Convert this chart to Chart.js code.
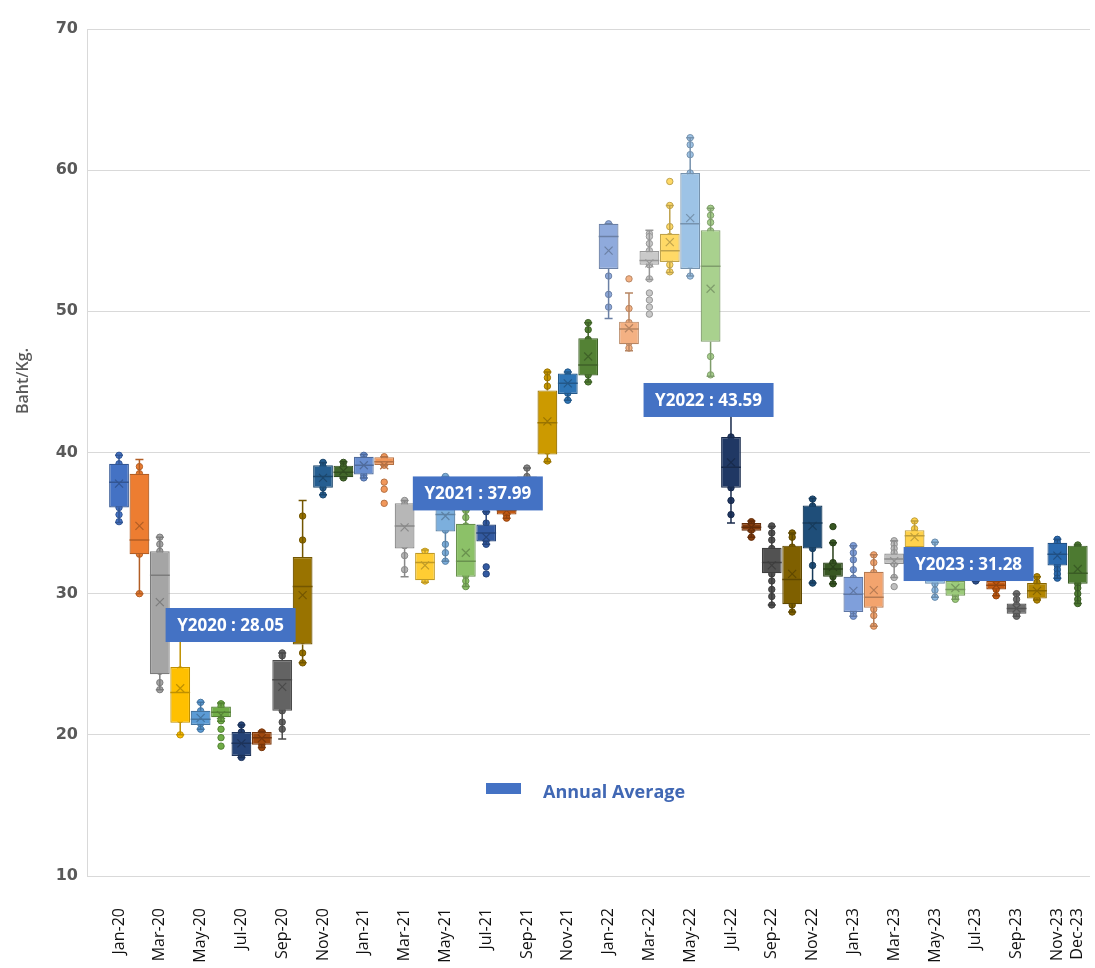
<!DOCTYPE html>
<html>
<head>
<meta charset="utf-8">
<script src="https://cdn.jsdelivr.net/npm/chart.js@4.4.0/dist/chart.umd.min.js"></script>
<style>
  html, body { margin: 0; background: #fff; }
</style>
</head>
<body>
<canvas id="boxChart" width="1095" height="968"></canvas>
<script>
const months = [
  "Jan-20","Feb-20","Mar-20","Apr-20","May-20","Jun-20","Jul-20","Aug-20","Sep-20","Oct-20","Nov-20","Dec-20",
  "Jan-21","Feb-21","Mar-21","Apr-21","May-21","Jun-21","Jul-21","Aug-21","Sep-21","Oct-21","Nov-21","Dec-21",
  "Jan-22","Feb-22","Mar-22","Apr-22","May-22","Jun-22","Jul-22","Aug-22","Sep-22","Oct-22","Nov-22","Dec-22",
  "Jan-23","Feb-23","Mar-23","Apr-23","May-23","Jun-23","Jul-23","Aug-23","Sep-23","Oct-23","Nov-23","Dec-23"
];

// box stats per month (Baht/Kg.)
const whiskerLow = [35.05,30.0,23.2,20.0,20.4,20.97,18.4,19.1,19.7,25.1,37.0,38.2,
  38.2,39.12,31.2,30.8,32.3,30.5,33.5,35.35,37.2,39.35,43.7,45.0,
  49.5,47.2,52.25,52.75,52.5,45.4,35.0,34.0,29.2,28.7,30.75,30.7,
  28.4,27.7,31.15,33.1,29.75,29.6,30.9,29.85,28.4,29.55,31.1,29.3];
const boxQ1 = [36.1,32.8,24.3,20.85,20.7,21.25,18.5,19.3,21.7,26.4,37.5,38.25,
  38.45,39.12,33.2,30.95,34.4,31.2,33.7,35.6,37.5,39.85,44.15,45.45,
  53.0,47.67,53.3,53.5,53.0,47.85,37.5,34.45,31.45,29.25,33.2,31.2,
  28.7,29.0,32.1,33.3,30.7,29.85,31.3,30.3,28.57,29.65,32.0,30.7];
const boxMedian = [37.9,33.8,31.3,23.0,21.1,21.6,19.4,19.8,23.9,30.5,38.3,38.6,
  39.1,39.35,34.8,32.2,35.6,32.3,34.3,35.9,37.9,42.1,44.9,46.2,
  55.3,48.75,53.6,54.3,56.2,53.2,38.95,34.7,32.2,31.0,35.0,31.75,
  29.95,29.75,32.45,34.1,31.3,30.3,31.8,30.6,28.95,30.2,32.8,31.45];
const boxQ3 = [39.2,38.5,33.0,24.8,21.7,22.0,20.2,20.2,25.3,32.6,39.1,39.07,
  39.7,39.67,36.4,32.9,37.3,34.95,34.9,36.1,38.3,44.4,45.6,48.1,
  56.2,49.27,54.27,55.5,59.8,55.75,41.1,35.0,33.25,33.4,36.25,32.2,
  31.2,31.55,32.85,34.5,32.0,30.9,32.3,30.9,29.3,30.75,33.6,33.4];
const whiskerHigh = [39.8,39.5,34.0,26.8,22.3,22.25,20.7,20.25,25.8,36.6,39.3,39.35,
  39.85,39.7,36.6,33.1,38.3,35.9,35.8,36.3,38.9,45.7,45.7,49.2,
  56.2,51.3,55.75,57.5,62.3,57.3,42.9,35.15,34.75,34.3,36.75,33.6,
  33.4,32.75,33.75,35.15,33.65,31.5,32.9,31.1,30.0,31.2,33.85,33.45];
const boxMean = [37.8,34.8,29.4,23.3,21.2,21.4,19.4,19.75,23.4,29.9,38.2,38.7,
  39.1,39.1,34.7,32.0,35.5,32.9,34.0,35.9,37.9,42.2,44.9,46.8,
  54.3,48.8,53.4,54.9,56.6,51.6,39.3,34.7,32.0,31.4,34.8,31.9,
  30.2,30.25,32.3,34.0,31.3,30.4,31.8,30.6,28.95,30.2,32.7,31.75];

// individual observations per month
const monthPoints = [
  [39.8,39.2,38.7,38.2,37.9,37.5,37.0,36.5,36.1,35.6,35.1],
  [39.0,38.5,37.5,37.0,33.8,33.3,32.8,30.0],
  [34.0,33.5,33.0,32.5,31.5,31.0,30.0,28.5,26.5,25.5,24.5,23.7,23.2],
  [24.6,24.1,23.7,22.8,21.7,21.1,20.0],
  [22.3,21.7,21.3,21.0,20.8,20.4],
  [22.2,22.0,21.7,21.4,21.0,20.4,19.8,19.2],
  [20.7,20.2,19.8,19.4,19.0,18.6,18.4],
  [20.2,19.9,19.6,19.3,19.1],
  [25.8,25.6,24.9,24.0,23.5,22.8,21.7,20.9,20.4],
  [35.5,33.8,32.1,31.5,30.9,30.2,28.4,27.8,27.2,26.7,25.8,25.1],
  [39.3,39.0,38.6,38.2,37.8,37.5,37.0],
  [39.3,39.0,38.7,38.4,38.2],
  [39.8,39.5,39.1,38.7,38.4,38.2],
  [39.7,39.5,39.3,39.1,37.9,37.4,36.4],
  [36.6,36.3,35.2,34.6,34.0,33.4,32.7,31.7],
  [33.0,32.6,32.2,31.7,31.2,30.9],
  [38.3,37.0,36.2,35.6,35.0,34.5,33.5,32.9,32.3],
  [35.9,35.4,34.8,34.0,33.3,32.5,32.0,31.3,30.9,30.5],
  [35.8,35.0,34.6,34.2,33.8,33.5,31.9,31.4],
  [36.2,36.0,35.8,35.6,35.35],
  [38.9,38.3,38.0,37.7,37.4],
  [45.7,45.3,44.7,43.9,42.3,41.2,40.7,40.1,39.4],
  [45.7,45.4,45.0,44.6,44.2,43.7],
  [49.2,48.7,48.0,47.6,47.1,46.6,46.0,45.5,45.0],
  [56.2,55.8,55.3,54.4,53.4,52.5,51.2,50.3],
  [52.3,50.2,49.2,48.9,48.6,48.2,47.8,47.4],
  [55.5,55.3,54.8,54.3,53.9,53.5,53.3,52.3,51.3,50.8,50.3,49.8],
  [59.2,57.5,56.0,55.3,54.8,54.2,53.7,53.3,52.8],
  [62.3,61.8,61.1,59.8,59.3,58.8,58.3,57.5,56.2,55.1,53.9,53.3,52.5],
  [57.3,56.8,56.3,55.7,55.2,54.8,54.0,53.2,51.9,50.0,49.3,46.8,45.5],
  [41.1,40.5,39.8,39.2,38.6,38.0,37.5,36.6,35.6],
  [35.1,34.9,34.7,34.5,34.0],
  [34.8,34.3,33.8,33.2,32.5,31.9,31.4,30.9,30.3,29.8,29.2],
  [34.3,34.0,33.3,32.6,31.8,31.0,30.3,29.6,29.2,28.7],
  [36.7,36.2,35.7,35.2,34.6,33.8,33.2,32.0,30.75],
  [34.75,33.6,32.2,31.9,31.5,31.2,30.7],
  [33.4,32.9,32.4,31.7,31.1,30.5,29.9,29.3,28.7,28.4],
  [32.75,32.2,31.5,30.9,30.2,29.8,29.3,28.9,28.45,27.7],
  [33.75,33.5,33.2,32.9,32.6,32.3,32.1,31.15,30.5],
  [35.15,34.6,34.3,34.0,33.6,33.3],
  [33.65,33.0,32.0,31.4,30.7,30.25,29.75],
  [31.3,30.8,30.4,30.0,29.85,29.6],
  [32.9,32.3,31.8,31.3,30.9],
  [31.1,30.9,30.6,30.3,29.85],
  [30.0,29.6,29.2,28.9,28.6,28.4],
  [31.2,30.8,30.4,30.0,29.65,29.55],
  [33.85,33.6,33.2,32.8,32.3,32.0,31.7,31.4,31.1],
  [33.45,33.3,32.8,32.2,31.7,31.2,30.7,30.4,30.0,29.6,29.3]
];

const yearNames = ["Y2020", "Y2021", "Y2022", "Y2023"];
const yearAverages = [28.05, 37.99, 43.59, 31.28];

const tickIndexes = [0,2,4,6,8,10,12,14,16,18,20,22,24,26,28,30,32,34,36,38,40,42,44,46,47];

const boxColors = [
  "#4472C4","#ED7D31","#A5A5A5","#FFC000","#5B9BD5","#70AD47",
  "#264478","#9E480E","#636363","#997300","#255E91","#43682B",
  "#698ED0","#F1975A","#B7B7B7","#FFCD33","#7CAFDD","#8CC168",
  "#335AA1","#C65B13","#848484","#CC9A00","#2E75B6","#548235",
  "#8FAADC","#F4B183","#C9C9C9","#FFD966","#9DC3E6","#A9D18E",
  "#203864","#843C0C","#525252","#7F6000","#1F4E79","#385723",
  "#7F9FDB","#F3A46E","#BFBFBF","#FFD24C","#8CB9E2","#9CCB7B",
  "#2C4F8C","#C55A11","#6F6F6F","#B38600","#2A6AB0","#4D7A31"
];

function darken(hex, f) {
  const n = parseInt(hex.slice(1), 16);
  const r = Math.round(((n >> 16) & 255) * (1 - f));
  const g = Math.round(((n >> 8) & 255) * (1 - f));
  const b = Math.round((n & 255) * (1 - f));
  return `rgb(${r},${g},${b})`;
}
const edgeColors = boxColors.map((c) => darken(c, 0.25));

// label box anchors (x in month index, y in Baht/Kg.)
const labelAnchors = [[5.47, 27.78], [17.59, 37.1], [28.9, 43.72], [41.65, 32.1]];

const scatterData = [];
const scatterFill = [];
const scatterEdge = [];
monthPoints.forEach((pts, i) => {
  pts.forEach((v) => {
    scatterData.push({ x: i, y: v });
    scatterFill.push(boxColors[i]);
    scatterEdge.push(edgeColors[i]);
  });
});

const boxExtras = {
  id: "boxExtras",
  afterDatasetDraw(chart, args) {
    if (args.index !== 0) return;
    const ctx = chart.ctx;
    const xs = chart.scales.x;
    const ys = chart.scales.y;
    const meta = chart.getDatasetMeta(0);
    ctx.save();
    months.forEach((m, i) => {
      const bar = meta.data[i];
      const cx = xs.getPixelForValue(i);
      const half = bar.width / 2;
      ctx.strokeStyle = edgeColors[i];
      ctx.lineWidth = 1.5;
      ctx.beginPath();
      ctx.moveTo(cx, ys.getPixelForValue(boxQ3[i]));
      ctx.lineTo(cx, ys.getPixelForValue(whiskerHigh[i]));
      ctx.moveTo(cx, ys.getPixelForValue(boxQ1[i]));
      ctx.lineTo(cx, ys.getPixelForValue(whiskerLow[i]));
      ctx.moveTo(cx - 4, ys.getPixelForValue(whiskerHigh[i]));
      ctx.lineTo(cx + 4, ys.getPixelForValue(whiskerHigh[i]));
      ctx.moveTo(cx - 4, ys.getPixelForValue(whiskerLow[i]));
      ctx.lineTo(cx + 4, ys.getPixelForValue(whiskerLow[i]));
      const my = ys.getPixelForValue(boxMedian[i]);
      ctx.moveTo(cx - half, my);
      ctx.lineTo(cx + half, my);
      ctx.stroke();
      const ay = ys.getPixelForValue(boxMean[i]);
      ctx.lineWidth = 1.2;
      ctx.beginPath();
      ctx.moveTo(cx - 4, ay - 4);
      ctx.lineTo(cx + 4, ay + 4);
      ctx.moveTo(cx + 4, ay - 4);
      ctx.lineTo(cx - 4, ay + 4);
      ctx.stroke();
    });
    ctx.restore();
  },
  afterDraw(chart) {
    const ctx = chart.ctx;
    const xs = chart.scales.x;
    const ys = chart.scales.y;
    ctx.save();
    // annual average labels
    yearAverages.forEach((v, i) => {
      const cx = xs.getPixelForValue(labelAnchors[i][0]);
      const cy = ys.getPixelForValue(labelAnchors[i][1]);
      ctx.fillStyle = "#4472C4";
      ctx.fillRect(cx - 65, cy - 17, 130, 34);
      ctx.fillStyle = "#ffffff";
      ctx.font = "bold 17px 'Open Sans'";
      ctx.textAlign = "center";
      ctx.textBaseline = "middle";
      ctx.fillText(`${yearNames[i]} : ${v.toFixed(2)}`, cx, cy + 1);
    });
    // legend
    ctx.fillStyle = "#4472C4";
    ctx.fillRect(486, 783, 35, 11);
    ctx.font = "bold 18px 'Open Sans'";
    ctx.textAlign = "left";
    ctx.textBaseline = "middle";
    ctx.fillStyle = "#4168B4";
    ctx.fillText("Annual Average", 543, 793);
    // y axis title
    ctx.translate(23, 381);
    ctx.rotate(-Math.PI / 2);
    ctx.textAlign = "center";
    ctx.fillStyle = "#595959";
    ctx.font = "600 16px 'Open Sans'";
    ctx.fillText("Baht/Kg.", 0, 0);
    ctx.restore();
  },
};

new Chart(document.getElementById("boxChart"), {
  type: "bar",
  data: {
    datasets: [
      {
        label: "Monthly price",
        data: months.map((m, i) => ({ x: i, y: [boxQ1[i], boxQ3[i]] })),
        backgroundColor: boxColors,
        borderColor: edgeColors,
        borderWidth: 1.2,
        borderSkipped: false,
        barPercentage: 0.97,
        categoryPercentage: 1.0,
      },
      {
        type: "scatter",
        label: "Observations",
        data: scatterData,
        pointBackgroundColor: scatterFill,
        pointBorderColor: scatterEdge,
        pointBorderWidth: 1,
        pointRadius: 3.2,
        showLine: false,
      },
    ],
  },
  options: {
    responsive: false,
    animation: false,
    layout: { padding: { top: 29, right: 0, left: 0, bottom: 0 } },
    plugins: {
      legend: { display: false },
      tooltip: { enabled: false },
    },
    scales: {
      x: {
        type: "linear",
        offset: false,
        min: -1.57,
        max: 47.6,
        grid: { display: false, drawTicks: false },
        border: { display: false },
        afterBuildTicks: (s) => {
          s.ticks = tickIndexes.map((v) => ({ value: v }));
        },
        afterFit: (s) => {
          s.height = 92;
          s.paddingLeft = 0;
          s.paddingRight = 0;
        },
        ticks: {
          autoSkip: false,
          minRotation: 90,
          maxRotation: 90,
          padding: 32,
          color: "#111111",
          font: { family: "Open Sans", size: 16 },
          callback: (v) => months[v],
        },
      },
      y: {
        min: 10,
        max: 70,
        grid: { color: "#d9d9d9", drawTicks: false },
        border: { display: true, color: "#d9d9d9" },
        afterFit: (s) => {
          s.width = 87;
        },
        ticks: {
          stepSize: 10,
          padding: 9,
          color: "#595959",
          font: { family: "DejaVu Sans", size: 16, weight: "bold" },
        },
      },
    },
  },
  plugins: [boxExtras],
});
</script>
</body>
</html>
